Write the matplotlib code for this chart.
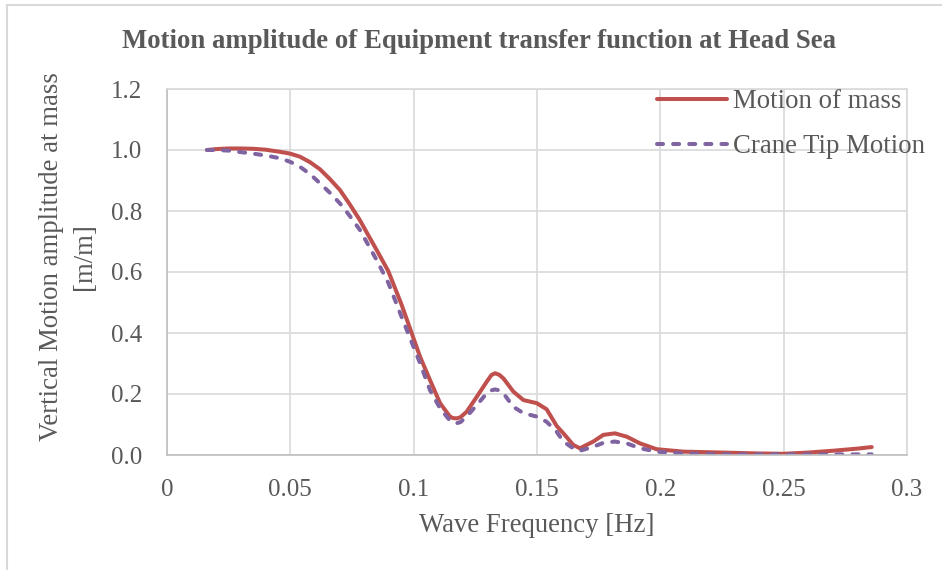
import matplotlib
matplotlib.use('Agg')
import matplotlib.pyplot as plt
from matplotlib.lines import Line2D

plt.rcParams['font.family'] = ['Liberation Serif', 'DejaVu Serif']

# wave frequency [Hz] and response amplitude [m/m]
freq = [0.0162, 0.02, 0.025, 0.03, 0.035, 0.04, 0.0458, 0.05, 0.0539, 0.058,
        0.062, 0.066, 0.0701, 0.074, 0.0782, 0.0815, 0.085, 0.0897, 0.095, 0.1026,
        0.1066, 0.1107, 0.1147, 0.116, 0.1174, 0.119, 0.1215, 0.1256, 0.1296, 0.1315,
        0.133, 0.1347, 0.1364, 0.1404, 0.1445, 0.1499, 0.1539, 0.158, 0.1607, 0.1647,
        0.1674, 0.1728, 0.1769, 0.1816, 0.1864, 0.1918, 0.1985, 0.2093, 0.22, 0.23,
        0.24, 0.25, 0.26, 0.27, 0.28, 0.2857]

mass_motion = [1.000, 1.003, 1.005, 1.005, 1.004, 1.001, 0.994, 0.988, 0.978, 0.960,
               0.937, 0.905, 0.869, 0.823, 0.770, 0.722, 0.672, 0.603, 0.495, 0.322,
               0.246, 0.170, 0.126, 0.121, 0.120, 0.124, 0.142, 0.191, 0.240, 0.262,
               0.268, 0.263, 0.251, 0.208, 0.180, 0.170, 0.150, 0.095, 0.071, 0.033,
               0.022, 0.044, 0.066, 0.071, 0.060, 0.038, 0.019, 0.011, 0.009, 0.007,
               0.005, 0.004, 0.008, 0.014, 0.021, 0.026]

crane_tip = [1.000, 1.000, 0.998, 0.993, 0.988, 0.982, 0.973, 0.961, 0.945, 0.921,
             0.891, 0.860, 0.825, 0.785, 0.738, 0.690, 0.639, 0.565, 0.455, 0.301,
             0.213, 0.153, 0.113, 0.106, 0.104, 0.108, 0.126, 0.164, 0.202, 0.212,
             0.215, 0.212, 0.202, 0.158, 0.137, 0.126, 0.109, 0.076, 0.044, 0.022,
             0.014, 0.027, 0.040, 0.044, 0.038, 0.022, 0.011, 0.005, 0.003, 0.002,
             0.002, 0.002, 0.002, 0.002, 0.002, 0.002]

xticks = [0, 0.05, 0.1, 0.15, 0.2, 0.25, 0.3]
xticklabels = ['0', '0.05', '0.1', '0.15', '0.2', '0.25', '0.3']
yticks = [0.0, 0.2, 0.4, 0.6, 0.8, 1.0, 1.2]

TXT = '#595959'
GRID = '#D9D9D9'
FS = 19.3

fig = plt.figure(figsize=(9.42, 5.7), dpi=100)
ax = fig.add_axes([167 / 942, 1 - 455 / 570, 740 / 942, 366 / 570])

ax.plot(freq, mass_motion, color='#C0504D', lw=2.9, label='Motion of mass',
        solid_capstyle='round', solid_joinstyle='round')
ax.plot(freq, crane_tip, color='#8064A2', lw=2.9, ls=(0, (1.5, 2.5)),
        label='Crane Tip Motion', dash_capstyle='round', dash_joinstyle='round')

ax.set_xlim(0, 0.3)
ax.set_ylim(0, 1.2)
ax.set_xticks(xticks)
ax.set_xticklabels(xticklabels)
ax.set_yticks(yticks)
ax.set_yticklabels([f'{v:.1f}' for v in yticks])
ax.grid(True, color=GRID, lw=1.2)
ax.set_axisbelow(True)
ax.tick_params(length=0, labelsize=18, colors=TXT)
ax.tick_params(axis='x', pad=17)
ax.tick_params(axis='y', pad=18)
for side in ['top', 'right']:
    ax.spines[side].set_color(GRID)
    ax.spines[side].set_linewidth(1.2)
for side in ['left', 'bottom']:
    ax.spines[side].set_color('#BFBFBF')
    ax.spines[side].set_linewidth(1.2)

ax.set_xlabel('Wave Frequency [Hz]', fontsize=FS, color=TXT, labelpad=9)
ax.set_ylabel('Vertical Motion amplitude at mass\n[m/m]', fontsize=FS, color=TXT,
              linespacing=1.4)
ax.yaxis.set_label_coords(97 / 942, 1 - 257 / 570, transform=fig.transFigure)

fig.suptitle('Motion amplitude of Equipment transfer function at Head Sea',
             x=0.508, y=1 - 42 / 570, va='center', fontsize=FS, fontweight='bold',
             color=TXT)

ax.legend(loc='upper left', bbox_to_anchor=(657 / 942, 1 - 89 / 570),
          bbox_transform=fig.transFigure, frameon=False, fontsize=FS,
          handlelength=2.6, handletextpad=0.22, labelspacing=0.75,
          borderpad=0, borderaxespad=0, labelcolor=TXT)

# chart frame edges
fig.add_artist(Line2D([7 / 942, 7 / 942], [0, 1 - 5 / 570], transform=fig.transFigure,
                      color=GRID, lw=1.5))
fig.add_artist(Line2D([7 / 942, 1], [1 - 5 / 570, 1 - 5 / 570], transform=fig.transFigure,
                      color=GRID, lw=1.5))

fig.savefig('out.png', dpi=100, facecolor='white')
